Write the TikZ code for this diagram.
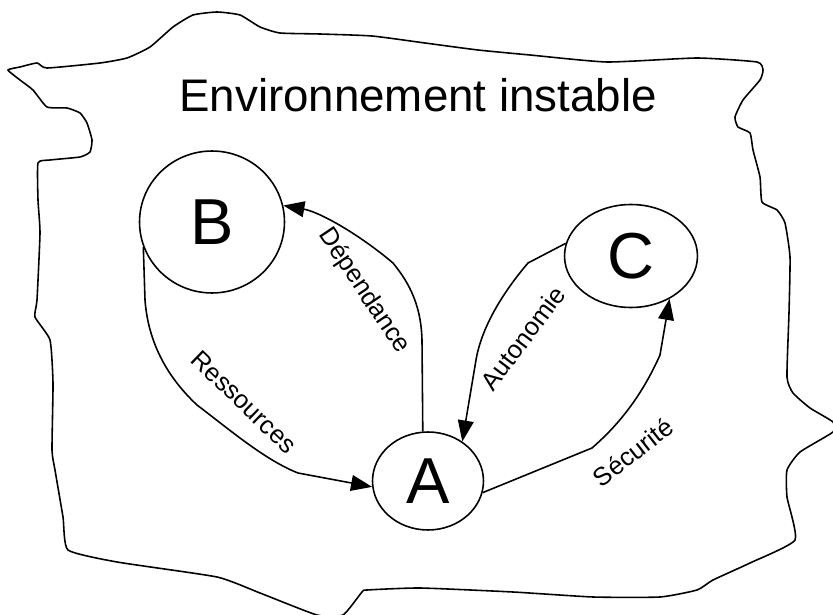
\documentclass[tikz,border=0pt]{standalone}
\usepackage{fontspec}
\setmainfont{Liberation Sans}
\usetikzlibrary{arrows.meta,shapes.geometric}

\begin{document}
\begin{tikzpicture}[
  x=0.02cm, y=-0.02cm,
  >={Triangle[length=12pt,width=9pt]},
  actor/.style={draw, ellipse, line width=0.9pt, inner sep=0pt, font=\fontsize{37}{40}\selectfont},
  link/.style={->, line width=0.9pt},
  lbl/.style={font=\fontsize{14.5}{16}\selectfont, inner sep=0pt}
]
  \useasboundingbox (0,0) rectangle (833,615);

  % contour de l'environnement
  \draw[line width=0.9pt] plot[smooth cycle, tension=0.3] coordinates {
    (8,70) (20,67) (37,63) (47,68) (100,63) (127,58) (150,47) (173,27) (193,15)
    (217,12) (240,15) (260,27) (280,33) (320,34) (372,36) (425,43) (478,50)
    (530,55) (607,62) (697,58) (757,62) (763,70) (760,80) (743,100) (735,117)
    (738,127) (750,133) (753,150) (760,177) (762,202) (777,210) (785,223)
    (790,257) (789,313) (787,377) (793,393) (810,408) (833,422) (833,432)
    (800,452) (787,470) (787,497) (795,540) (750,563) (713,580) (697,590)
    (660,597) (593,597) (513,592) (420,588) (367,590) (362,592) (343,615)
    (317,615) (260,593) (217,577) (117,562) (68,550) (63,517) (55,470)
    (52,450) (53,383) (50,340) (35,317) (37,300) (40,233) (38,200) (38,163)
    (50,160) (80,157) (90,152) (92,140) (87,123) (80,113) (67,108) (47,107)
    (33,90) (20,80)};

  \node[font=\fontsize{26}{30}\selectfont] (titre) at (418,95) {Environnement instable};

  \node[actor, minimum width=2.9cm, minimum height=2.84cm] (B) at (212,222) {B};
  \node[actor, minimum width=2.66cm, minimum height=2.06cm] (C) at (631,256) {C};
  \node[actor, minimum width=2.22cm, minimum height=1.96cm] (A) at (428,481) {A};

  \draw[link] (A.96) -- (422,340) .. controls (421,300) and (405,278) .. (393,263)
    .. controls (360,235) and (320,212) .. (B.13);
  \draw[link] (B.200) -- (145,300) .. controls (148,340) and (165,375) .. (197,405)
    .. controls (230,430) and (265,460) .. (298,473) -- (A.186);
  \draw[link] (C.169) -- (528,263) .. controls (505,290) and (482,325) .. (476,360) -- (A.49);
  \draw[link] (A.348) -- (592,448) .. controls (615,428) and (640,400) .. (660,355) -- (C.312);

  \node[lbl, rotate=-56] (dep) at (364,291) {Dépendance};
  \node[lbl, rotate=-44] (res) at (244,402) {Ressources};
  \node[lbl, rotate=53] (aut) at (523,338) {Autonomie};
  \node[lbl, rotate=38] (sec) at (633,452) {Sécurité};
\end{tikzpicture}
\end{document}
